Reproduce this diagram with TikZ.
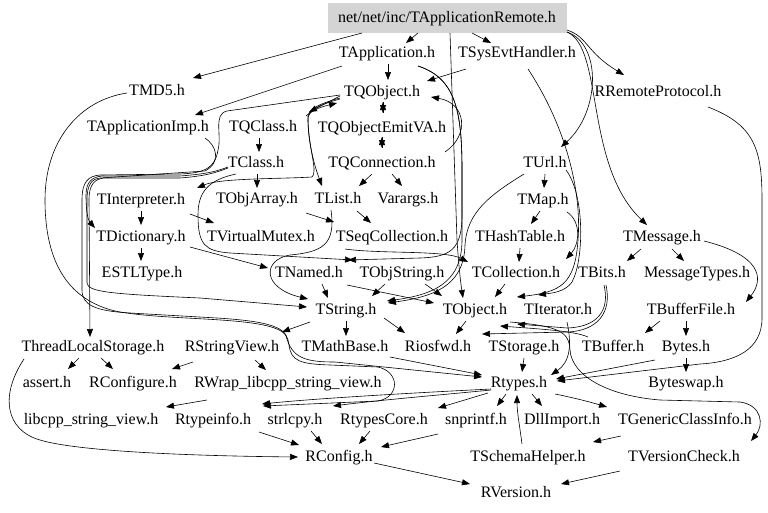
\documentclass[tikz,border=0pt]{standalone}
\usepackage{fontspec}
\setmainfont{Liberation Serif}
\usetikzlibrary{arrows.meta,calc}
\begin{document}
\begin{tikzpicture}[x=1pt,y=-1pt,
  n/.style={inner xsep=2pt,inner ysep=0pt,text height=11pt,text depth=3pt,font=\fontsize{16}{18}\selectfont},
  e/.style={-{Triangle[length=8pt,width=6pt]},line width=0.6pt,black}]
\useasboundingbox (0,0) rectangle (768,512);
% nodes
\node[n,fill=black!17,minimum width=239pt,minimum height=30pt] (rem) at (447,18) {net/net/inc/TApplicationRemote.h};
\node[n] (tapp) at (387,53) {TApplication.h};
\node[n] (tsys) at (517,53) {TSysEvtHandler.h};
\node[n] (tmd5) at (157,91) {TMD5.h};
\node[n] (tqobj) at (382,92) {TQObject.h};
\node[n] (rrp) at (658,92) {RRemoteProtocol.h};
\node[n] (tappimp) at (148,127) {TApplicationImp.h};
\node[n] (tqclass) at (263,127) {TQClass.h};
\node[n] (tqemit) at (382,128) {TQObjectEmitVA.h};
\node[n] (tclass) at (256,163) {TClass.h};
\node[n] (tqconn) at (382,163) {TQConnection.h};
\node[n] (turl) at (545,163) {TUrl.h};
\node[n] (tinterp) at (141,200) {TInterpreter.h};
\node[n] (tobjarray) at (257,199) {TObjArray.h};
\node[n] (tlist) at (338,199) {TList.h};
\node[n] (varargs) at (408,199) {Varargs.h};
\node[n] (tmap) at (543,200) {TMap.h};
\node[n] (tdict) at (141,237) {TDictionary.h};
\node[n] (tvmutex) at (261,237) {TVirtualMutex.h};
\node[n] (tseq) at (392,237) {TSeqCollection.h};
\node[n] (thash) at (520,237) {THashTable.h};
\node[n] (tmsg) at (662,237) {TMessage.h};
\node[n] (estl) at (142,273) {ESTLType.h};
\node[n] (tnamed) at (309,273) {TNamed.h};
\node[n] (tobjstr) at (402,273) {TObjString.h};
\node[n] (tcoll) at (516,273) {TCollection.h};
\node[n] (tbits) at (602,273) {TBits.h};
\node[n] (msgtypes) at (697,273) {MessageTypes.h};
\node[n] (tstring) at (346,310) {TString.h};
\node[n] (tobject) at (475,310) {TObject.h};
\node[n] (titer) at (558,310) {TIterator.h};
\node[n] (tbufferfile) at (691,310) {TBufferFile.h};
\node[n] (tls) at (93,347) {ThreadLocalStorage.h};
\node[n] (rsv) at (232,347) {RStringView.h};
\node[n] (tmath) at (345,347) {TMathBase.h};
\node[n] (riosfwd) at (438,347) {Riosfwd.h};
\node[n] (tstorage) at (524,347) {TStorage.h};
\node[n] (tbuffer) at (613,347) {TBuffer.h};
\node[n] (bytes) at (686,347) {Bytes.h};
\node[n] (assert) at (47,383) {assert.h};
\node[n] (rconfigure) at (133,383) {RConfigure.h};
\node[n] (rwrap) at (288,383) {RWrap\_libcpp\_string\_view.h};
\node[n] (rtypes) at (519,383) {Rtypes.h};
\node[n] (byteswap) at (686,383) {Byteswap.h};
\node[n] (libcpp) at (91,420) {libcpp\_string\_view.h};
\node[n] (rtypeinfo) at (213,420) {Rtypeinfo.h};
\node[n] (strlcpy) at (295,420) {strlcpy.h};
\node[n] (rtypescore) at (384,420) {RtypesCore.h};
\node[n] (snprintf) at (476,420) {snprintf.h};
\node[n] (dllimport) at (562,420) {DllImport.h};
\node[n] (tgeneric) at (685,420) {TGenericClassInfo.h};
\node[n] (rconfig) at (339,457) {RConfig.h};
\node[n] (tschema) at (528,457) {TSchemaHelper.h};
\node[n] (tversion) at (684,457) {TVersionCheck.h};
\node[n] (rversion) at (516,493) {RVersion.h};
% edges: top
\draw[e] ($(rem)+(-29,15)$) -- ($(tapp)+(19,-10)$);
\draw[e] ($(rem)+(25,15)$) -- ($(tsys)+(-26,-10)$);
\draw[e] ($(rem)+(-85,15)$) -- ($(tmd5)+(36,-13)$);
\draw[e] ($(rem)+(120,12)$) .. controls (588,37) and (586,52) .. ($(rrp)+(-34,-17)$);
\draw[e] ($(rem)+(120,14)$) .. controls (602,44) and (600,112) .. ($(turl)+(16,-16)$);
\draw[e] ($(rem)+(120,14)$) .. controls (604,48) and (584,165) .. ($(tmsg)+(-15,-12)$);
\draw[e] ($(rem)+(3,15)$) -- (457,240) .. controls (459,270) and (461,285) .. ($(tobject)+(-12,-12)$);
\draw[e] ($(tapp)+(31,13)$) .. controls (455,78) and (462,110) .. (462,170) -- (462,215) .. controls (462,250) and (450,257) .. (420,258) -- ($(tnamed)+(39,-13)$);
\draw[e] ($(tapp)+(1,11)$) -- ($(tqobj)+(6,-12)$);
\draw[e] ($(tapp)+(-45,13)$) -- ($(tappimp)+(47,-12)$);
\draw[e] ($(tapp)+(31,13)$) .. controls (455,78) and (462,110) .. (462,170) -- (462,240) .. controls (462,285) and (430,295) .. ($(tstring)+(41,-9)$);
\draw[e] ($(tsys)+(-51,16)$) -- ($(tqobj)+(45,-11)$);
\draw[e] ($(tsys)+(11,16)$) .. controls (565,125) and (582,190) .. (578,240) .. controls (575,285) and (560,292) .. ($(tobject)+(42,-13)$);
\draw[e] ($(turl)+(21,7)$) .. controls (585,195) and (584,260) .. (572,282) .. controls (565,292) and (552,293) .. ($(titer)+(-20,-15)$);
\draw[e] ($(turl)+(-21,11)$) .. controls (490,195) and (467,212) .. (465,245) .. controls (464,288) and (430,297) .. ($(tstring)+(42,-7)$);
% TQObject cluster
\draw[e] ($(tqobj)+(1,10)$) -- ($(tqemit)+(1,-15)$);
\draw[e] ($(tqemit)+(1,-15)$) -- ($(tqobj)+(1,10)$);
\draw[e] ($(tqemit)+(0,9)$) -- ($(tqconn)+(0,-15)$);
\draw[e] ($(tqconn)+(0,-15)$) -- ($(tqemit)+(0,9)$);
\draw[e] ($(tqconn)+(63,-11)$) .. controls (470,135) and (466,103) .. ($(tqobj)+(49,5)$);
\draw[e] ($(tqconn)+(-10,11)$) -- ($(tlist)+(21,-13)$);
\draw[e] ($(tqconn)+(10,11)$) -- ($(varargs)+(-6,-13)$);
\draw[e] ($(tqobj)+(-42,4)$) -- ($(tqclass)+(46,-15)$);
\draw[e] ($(tqclass)+(43,-11)$) .. controls (315,108) and (325,106) .. ($(tqobj)+(-45,11)$);
\draw[e] ($(tqobj)+(-42,6)$) .. controls (318,104) and (306,110) .. (308,120) .. controls (308,145) and (316,170) .. ($(tlist)+(-16,-13)$);
\draw[e] ($(tqobj)+(-42,7)$) .. controls (318,105) and (307,111) .. (308,121) .. controls (309,150) and (318,172) .. (312,177) .. controls (280,179) and (220,178) .. ($(tinterp)+(56,-12)$);
\draw[e] ($(tqclass)+(-4,11)$) -- ($(tclass)+(3,-11)$);
\draw[e] ($(tclass)+(1,11)$) -- ($(tobjarray)+(0,-11)$);
% left bundle
\draw[e] ($(tqobj)+(-42,3)$) -- (227,111) .. controls (213,114) and (222,135) .. (218,150) .. controls (215,168) and (205,173) .. (180,174) -- (100,175) .. controls (88,176) and (82,182) .. (82,200) -- (82,290) .. controls (82,305) and (95,311) .. (130,313) -- (217,318) .. controls (281,322) and (287,330) .. (289,345) .. controls (291,361) and (300,364) .. (330,365) -- (378,367) .. controls (400,372) and (400,397) .. (378,401) -- ($(rtypeinfo)+(50,-14)$);
\draw[e] ($(tmd5)+(-30,2)$) .. controls (80,100) and (45,140) .. (45,200) .. controls (45,265) and (70,300) .. (115,311) .. controls (170,322) and (275,315) .. (286,336) .. controls (292,358) and (305,362) .. (335,362) -- ($(rtypes)+(-37,-6)$);
\draw[e] ($(tappimp)+(57,11)$) .. controls (216,145) and (222,162) .. (205,171) -- (100,178) .. controls (92,179) and (87,184) .. (87,200) -- (87,283) .. controls (88,292) and (110,294) .. (200,298) -- ($(tstring)+(-39,-3)$);
\draw[e] ($(tclass)+(-28,4)$) .. controls (215,172) and (205,174) .. (180,176) -- (102,176) .. controls (92,177) and (86,182) .. (86,195) .. controls (86,212) and (88,220) .. ($(tdict)+(-46,-9)$);
\draw[e] ($(tclass)+(-28,5)$) .. controls (215,173) and (205,176) .. (180,178) -- (104,178) .. controls (95,179) and (89,184) .. (89,200) -- ($(tls)+(-3,-10)$);
\draw[e] ($(tclass)+(-20,11)$) .. controls (208,180) and (198,192) .. (198,215) .. controls (198,245) and (205,251) .. (230,253) -- ($(tobjstr)+(-49,-13)$);
\draw[e] ($(tdict)+(49,10)$) -- ($(tnamed)+(-41,-5)$);
\draw[e] ($(tinterp)+(49,14)$) -- ($(tvmutex)+(-47,-14)$);
\draw[e] ($(tinterp)+(0,11)$) -- ($(tdict)+(0,-12)$);
\draw[e] ($(tdict)+(0,11)$) -- ($(estl)+(-1,-12)$);
% middle
\draw[e] ($(tobjarray)+(49,14)$) -- ($(tseq)+(-58,-15)$);
\draw[e] ($(tlist)+(-7,11)$) .. controls (336,245) and (322,252) .. (290,255) .. controls (262,260) and (262,288) .. ($(tstring)+(-38,-11)$);
\draw[e] ($(tlist)+(19,12)$) -- ($(tseq)+(-21,-14)$);
\draw[e] ($(tseq)+(-47,12)$) .. controls (380,254) and (445,250) .. ($(tcoll)+(-48,-11)$);
\draw[e] ($(thash)+(0,11)$) -- ($(tcoll)+(3,-11)$);
\draw[e] ($(tmap)+(-3,11)$) -- ($(thash)+(11,-13)$);
\draw[e] ($(turl)+(0,11)$) -- ($(tmap)+(1,-12)$);
\draw[e] ($(tmap)+(24,12)$) .. controls (582,222) and (579,245) .. ($(tcoll)+(50,-14)$);
\draw[e] ($(tnamed)+(13,11)$) -- ($(tstring)+(-18,-12)$);
\draw[e] ($(tnamed)+(38,12)$) -- ($(tobject)+(-41,-7)$);
\draw[e] ($(tobjstr)+(-17,11)$) -- ($(tstring)+(26,-14)$);
\draw[e] ($(tobjstr)+(23,11)$) -- ($(tobject)+(-33,-14)$);
\draw[e] ($(tcoll)+(-11,11)$) -- ($(tobject)+(20,-13)$);
% lower middle
\draw[e] ($(tstring)+(0,11)$) -- ($(tmath)+(1,-11)$);
\draw[e] ($(tstring)+(38,8)$) -- ($(riosfwd)+(-33,-14)$);
\draw[e] ($(tstring)+(-36,12)$) -- ($(rsv)+(50,-15)$);
\draw[e] ($(tobject)+(-9,11)$) -- ($(riosfwd)+(18,-13)$);
\draw[e] ($(tbits)+(4,12)$) .. controls (612,312) and (598,331) .. (567,332) -- ($(riosfwd)+(44,-13)$);
\draw[e] ($(tbits)+(2,12)$) .. controls (610,310) and (598,327) .. (567,328) -- ($(tobject)+(42,14)$);
\draw[e] ($(tbuffer)+(-25,-10)$) .. controls (575,331) and (540,329) .. ($(tobject)+(25,16)$);
\draw[e] ($(tobject)+(35,12)$) .. controls (560,326) and (569,332) .. (570,350) .. controls (572,377) and (610,396) .. (660,400) -- (740,402) .. controls (762,405) and (764,425) .. ($(tversion)+(67,-16)$);
\draw[e] ($(titer)+(9,12)$) .. controls (572,345) and (570,362) .. ($(rtypes)+(32,-8)$);
\draw[e] ($(tstorage)+(0,11)$) -- ($(rtypes)+(3,-11)$);
\draw[e] ($(tmath)+(45,10)$) -- ($(rtypes)+(-37,-8)$);
\draw[e] ($(bytes)+(-31,13)$) -- ($(rtypes)+(37,-4)$);
\draw[e] ($(rrp)+(50,15)$) .. controls (755,125) and (762,150) .. (762,200) -- (762,318) .. controls (762,350) and (735,362) .. (700,364) -- ($(rtypes)+(38,-2)$);
\draw[e] ($(tbufferfile)+(-31,11)$) -- ($(tbuffer)+(32,-14)$);
\draw[e] ($(tbufferfile)+(-5,11)$) -- ($(bytes)+(0,-11)$);
\draw[e] ($(bytes)+(0,11)$) -- ($(byteswap)+(0,-11)$);
\draw[e] ($(tmsg)+(-21,12)$) -- ($(tbits)+(25,-12)$);
\draw[e] ($(tmsg)+(10,12)$) -- ($(msgtypes)+(-13,-12)$);
\draw[e] ($(tmsg)+(42,4)$) .. controls (760,255) and (765,278) .. ($(tbufferfile)+(55,-8)$);
% Rtypes fan-out
\draw[e] ($(rtypes)+(-28,6)$) .. controls (430,392) and (320,398) .. ($(rtypeinfo)+(49,-16)$);
\draw[e] ($(rtypes)+(-28,7)$) .. controls (440,395) and (380,400) .. ($(strlcpy)+(38,-14)$);
\draw[e] ($(rtypes)+(-31,10)$) -- ($(rtypescore)+(54,-12)$);
\draw[e] ($(rtypes)+(-13,11)$) -- ($(snprintf)+(21,-14)$);
\draw[e] ($(rtypes)+(13,11)$) -- ($(dllimport)+(-20,-14)$);
\draw[e] ($(rtypes)+(36,11)$) .. controls (575,398) and (590,402) .. ($(tgeneric)+(-78,-13)$);
\draw[e] ($(tschema)+(-6,-13)$) .. controls (520,428) and (517,412) .. ($(rtypes)+(-2,12)$);
\draw[e] ($(tgeneric)+(-64,16)$) -- ($(tschema)+(65,-15)$);
% bottom
\draw[e] ($(rtypeinfo)+(46,12)$) -- ($(rconfig)+(-40,-12)$);
\draw[e] ($(strlcpy)+(16,11)$) -- ($(rconfig)+(-17,-13)$);
\draw[e] ($(rtypescore)+(-14,11)$) -- ($(rconfig)+(20,-13)$);
\draw[e] ($(snprintf)+(-38,14)$) -- ($(rconfig)+(42,-10)$);
\draw[e] ($(tls)+(-69,12)$) .. controls (0,395) and (5,430) .. (40,440) .. controls (80,452) and (200,456) .. ($(rconfig)+(-41,0)$);
\draw[e] ($(tls)+(-14,11)$) -- ($(assert)+(21,-14)$);
\draw[e] ($(tls)+(8,11)$) -- ($(rconfigure)+(-20,-14)$);
\draw[e] ($(rsv)+(-39,15)$) -- ($(rconfigure)+(39,-14)$);
\draw[e] ($(rsv)+(23,13)$) -- ($(rwrap)+(-22,-13)$);
\draw[e] ($(rwrap)+(-81,17)$) -- ($(libcpp)+(75,-13)$);
\draw[e] ($(rconfig)+(35,6)$) -- ($(rversion)+(-46,-9)$);
\draw[e] ($(tversion)+(-64,14)$) -- ($(rversion)+(45,-9)$);
\end{tikzpicture}
\end{document}
